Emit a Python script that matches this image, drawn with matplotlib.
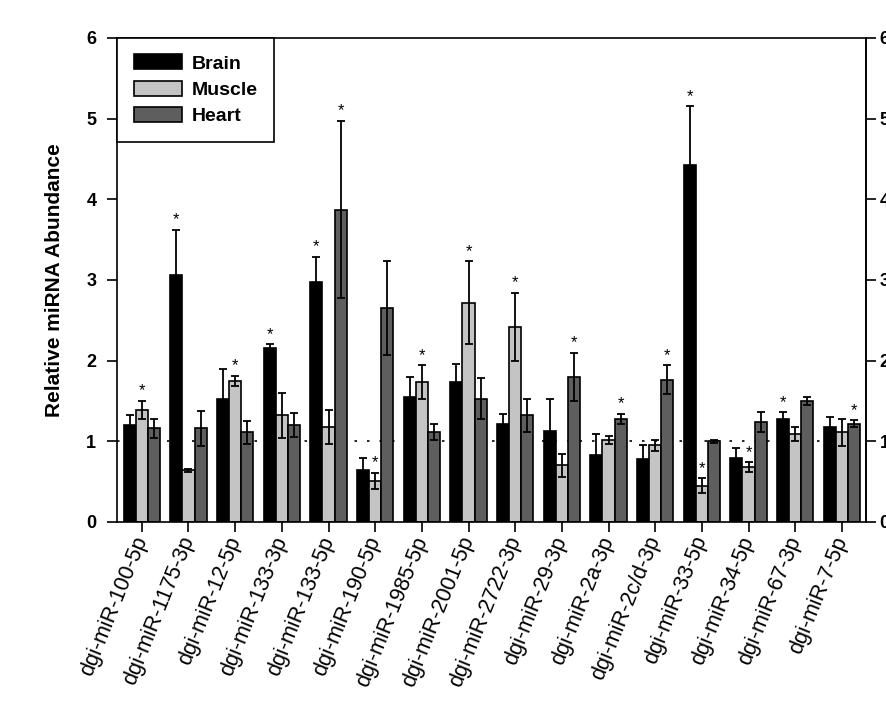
import matplotlib
matplotlib.use("Agg")
import matplotlib.pyplot as plt
import matplotlib.transforms as mtransforms
import numpy as np

plt.rcParams['font.family'] = ['Liberation Sans', 'DejaVu Sans']

# miRNA names
labels = ['dgi-miR-100-5p', 'dgi-miR-1175-3p', 'dgi-miR-12-5p', 'dgi-miR-133-3p',
          'dgi-miR-133-5p', 'dgi-miR-190-5p', 'dgi-miR-1985-5p', 'dgi-miR-2001-5p',
          'dgi-miR-2722-3p', 'dgi-miR-29-3p', 'dgi-miR-2a-3p', 'dgi-miR-2c/d-3p',
          'dgi-miR-33-5p', 'dgi-miR-34-5p', 'dgi-miR-67-3p', 'dgi-miR-7-5p']

# relative abundance (mean) and error
brain = [1.20, 3.06, 1.52, 2.15, 2.97, 0.65, 1.55, 1.73, 1.21, 1.13, 0.83, 0.78, 4.43, 0.79, 1.27, 1.18]
brain_err = [0.13, 0.56, 0.37, 0.05, 0.32, 0.14, 0.25, 0.23, 0.13, 0.39, 0.26, 0.17, 0.72, 0.13, 0.09, 0.12]
muscle = [1.39, 0.64, 1.75, 1.32, 1.18, 0.51, 1.73, 2.72, 2.42, 0.70, 1.02, 0.95, 0.45, 0.68, 1.09, 1.11]
muscle_err = [0.11, 0.02, 0.06, 0.28, 0.21, 0.10, 0.21, 0.51, 0.42, 0.14, 0.05, 0.07, 0.09, 0.06, 0.09, 0.17]
heart = [1.16, 1.16, 1.11, 1.20, 3.87, 2.65, 1.11, 1.53, 1.32, 1.80, 1.28, 1.76, 1.00, 1.24, 1.50, 1.22]
heart_err = [0.12, 0.22, 0.14, 0.15, 1.10, 0.58, 0.10, 0.25, 0.20, 0.30, 0.06, 0.18, 0.02, 0.12, 0.05, 0.04]

# which bars carry a significance star
brain_star = [0, 1, 0, 1, 1, 0, 0, 0, 0, 0, 0, 0, 1, 0, 1, 0]
muscle_star = [1, 0, 1, 0, 0, 1, 1, 1, 1, 0, 0, 0, 1, 1, 0, 0]
heart_star = [0, 0, 0, 0, 1, 0, 0, 0, 0, 1, 1, 1, 0, 0, 0, 1]

x = np.arange(len(labels))
w = 0.26

fig = plt.figure(figsize=(8.87, 7.15), dpi=100)
ax = fig.add_axes([0.132, 0.270, 0.844, 0.677])

ax.axhline(1, color='black', linestyle=(0, (1.5, 6)), linewidth=1.2, zorder=0)

series = [(brain, brain_err, brain_star, 'black', 'Brain', -w),
          (muscle, muscle_err, muscle_star, '#c4c4c4', 'Muscle', 0),
          (heart, heart_err, heart_star, '#5e5e5e', 'Heart', w)]

for vals, errs, stars, col, name, off in series:
    ax.bar(x + off, vals, w, color=col, edgecolor='black', linewidth=1.2,
           label=name, zorder=2)
    ax.errorbar(x + off, vals, yerr=errs, fmt='none', ecolor='black',
                elinewidth=1.3, capsize=3, capthick=1.3, zorder=3)
    for xi, v, e, s in zip(x + off, vals, errs, stars):
        if s:
            ax.text(xi, v + e + 0.03, '*', ha='center', va='bottom',
                    fontsize=12, zorder=4)

ax.set_xlim(-0.53, 15.51)
ax.set_ylim(0, 6)
ax.set_yticks(range(7))
ax.set_xticks(x)
ax.set_xticklabels(labels, rotation=68, ha='right', va='center',
                   rotation_mode='anchor', fontsize=15.5)
shift = mtransforms.ScaledTranslation(9 / 100, -6 / 100, fig.dpi_scale_trans)
for lab in ax.get_xticklabels():
    lab.set_transform(lab.get_transform() + shift)
ax.tick_params(axis='x', direction='out', length=7, width=1.2, pad=4)
ax.tick_params(axis='y', direction='out', length=7, width=1.2, labelsize=13,
               pad=8)
for lab in ax.get_yticklabels():
    lab.set_fontweight('bold')
for sp in ax.spines.values():
    sp.set_linewidth(1.2)

# right-hand axis (labels run off the edge, as in the original figure)
rax = ax.secondary_yaxis('right')
rax.set_yticks(range(7))
rax.tick_params(direction='out', length=7, width=1.2, labelsize=13, pad=3)
rax.spines['right'].set_linewidth(1.2)
for lab in rax.get_yticklabels():
    lab.set_fontweight('bold')

ax.set_ylabel('Relative miRNA Abundance', fontsize=15, fontweight='bold',
              labelpad=16)

leg = ax.legend(loc='upper left', bbox_to_anchor=(0, 1), borderaxespad=0,
                fancybox=False, edgecolor='black', framealpha=1,
                prop={'weight': 'bold', 'size': 14}, handlelength=2.5,
                handleheight=0.8, handletextpad=0.5, labelspacing=0.42,
                borderpad=0.85)
leg.get_frame().set_linewidth(1.2)

fig.savefig('out.png', dpi=100)
